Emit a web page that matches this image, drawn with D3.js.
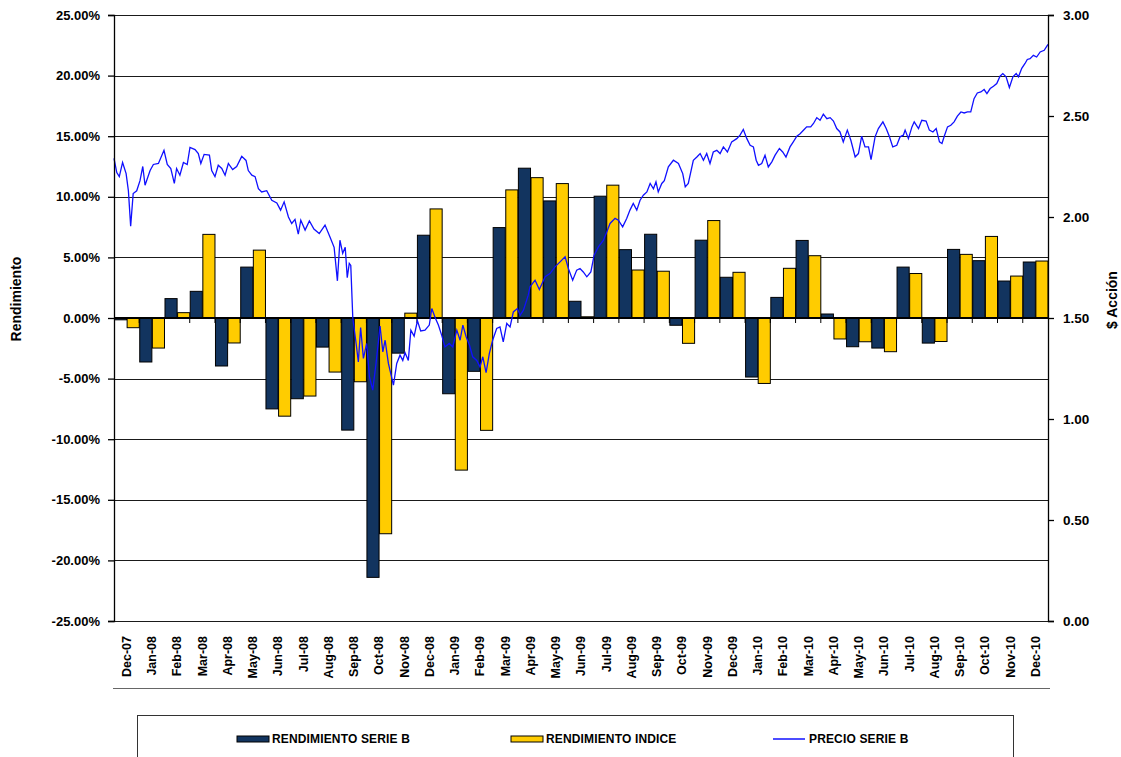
<!DOCTYPE html>
<html>
<head>
<meta charset="utf-8">
<script src="https://cdn.jsdelivr.net/npm/d3@7"></script>
<style>
  body { margin: 0; background: #fff; }
  svg { font-family: "Liberation Sans", Arial, sans-serif; font-weight: bold; }
</style>
</head>
<body>
<div id="chart"></div>
<script>
// categories (months)
const categories = ["Dec-07","Jan-08","Feb-08","Mar-08","Apr-08","May-08","Jun-08","Jul-08","Aug-08","Sep-08",
  "Oct-08","Nov-08","Dec-08","Jan-09","Feb-09","Mar-09","Apr-09","May-09","Jun-09","Jul-09","Aug-09","Sep-09",
  "Oct-09","Nov-09","Dec-09","Jan-10","Feb-10","Mar-10","Apr-10","May-10","Jun-10","Jul-10","Aug-10","Sep-10",
  "Oct-10","Nov-10","Dec-10"];

// monthly returns, %
const rendSerieB = [-0.15, -3.63, 1.6, 2.2, -3.96, 4.2, -7.5, -6.66, -2.4, -9.25, -21.4, -2.9, 6.83, -6.25, -4.4,
  7.46, 12.36, 9.66, 1.38, 10.05, 5.64, 6.91, -0.6, 6.42, 3.36, -4.87, 1.7, 6.4, 0.33, -2.37, -2.48, 4.2, -2.07,
  5.66, 4.73, 3.05, 4.62];
const rendIndice = [-0.8, -2.48, 0.44, 6.9, -2.06, 5.6, -8.1, -6.44, -4.46, -5.26, -17.8, 0.4, 9.0, -12.55, -9.27,
  10.57, 11.58, 11.09, 0.1, 10.96, 3.96, 3.86, -2.09, 8.04, 3.77, -5.4, 4.1, 5.14, -1.73, -1.96, -2.78, 3.67, -1.94,
  5.25, 6.73, 3.46, 4.7];

// price series B: position in months from start of Dec-07, and price
const priceMonth = [0.00,0.11,0.21,0.34,0.48,0.57,0.66,0.76,0.90,1.03,1.14,1.23,1.43,1.56,1.76,1.98,2.11,2.25,2.39,
  2.48,2.61,2.75,2.90,3.01,3.21,3.34,3.44,3.57,3.78,3.87,4.00,4.13,4.27,4.40,4.53,4.70,4.86,5.06,5.23,5.32,5.46,
  5.59,5.72,5.85,6.05,6.25,6.45,6.60,6.74,6.91,7.04,7.17,7.30,7.40,7.57,7.74,7.92,8.13,8.36,8.56,8.72,8.85,8.95,
  9.06,9.16,9.24,9.32,9.38,9.46,9.59,9.68,9.77,9.88,10.01,10.12,10.25,10.38,10.54,10.65,10.74,10.87,11.07,11.20,
  11.33,11.44,11.53,11.66,11.76,11.89,12.02,12.15,12.32,12.49,12.59,12.72,12.85,12.98,13.11,13.28,13.42,13.58,
  13.71,13.82,13.95,14.08,14.21,14.37,14.50,14.61,14.74,14.87,15.00,15.16,15.29,15.42,15.56,15.69,15.82,15.98,
  16.09,16.22,16.41,16.48,16.68,16.85,17.08,17.27,17.47,17.67,17.87,18.00,18.17,18.33,18.46,18.59,18.73,18.89,
  19.02,19.19,19.39,19.52,19.65,19.85,19.98,20.15,20.31,20.44,20.57,20.71,20.84,20.97,21.11,21.24,21.37,21.47,
  21.56,21.70,21.80,21.96,22.16,22.36,22.53,22.63,22.75,22.95,23.09,23.22,23.35,23.48,23.61,23.74,23.88,24.01,
  24.14,24.30,24.47,24.67,24.80,24.93,25.07,25.20,25.33,25.44,25.53,25.66,25.79,25.92,26.06,26.19,26.36,26.49,
  26.62,26.78,26.91,27.05,27.18,27.34,27.44,27.60,27.71,27.84,27.97,28.10,28.24,28.37,28.50,28.63,28.76,28.89,
  29.05,29.19,29.36,29.49,29.62,29.75,29.89,29.99,30.15,30.28,30.46,30.59,30.72,30.85,31.01,31.14,31.27,31.34,
  31.47,31.61,31.70,31.87,32.00,32.17,32.30,32.44,32.57,32.70,32.80,32.89,33.02,33.15,33.28,33.41,33.55,33.68,
  33.81,33.94,34.07,34.20,34.34,34.47,34.58,34.71,34.84,34.97,35.10,35.21,35.34,35.47,35.61,35.74,35.83,35.96,
  36.09,36.18,36.29,36.42,36.55,36.69,36.85,37.00];
const priceValue = [2.29,2.22,2.20,2.27,2.215,2.13,1.955,2.116,2.13,2.18,2.25,2.157,2.23,2.26,2.265,2.33,2.26,2.24,
  2.166,2.24,2.207,2.27,2.26,2.344,2.334,2.314,2.265,2.31,2.306,2.23,2.20,2.256,2.24,2.207,2.265,2.235,2.25,2.30,
  2.28,2.23,2.207,2.20,2.14,2.124,2.13,2.083,2.07,2.034,2.075,2.00,1.968,1.988,1.915,1.984,1.935,1.98,1.94,1.918,
  1.96,1.90,1.85,1.684,1.885,1.82,1.85,1.70,1.77,1.76,1.50,1.374,1.283,1.453,1.30,1.374,1.209,1.143,1.275,1.46,
  1.332,1.39,1.275,1.168,1.275,1.316,1.29,1.328,1.29,1.44,1.41,1.486,1.436,1.44,1.465,1.547,1.503,1.465,1.415,
  1.357,1.374,1.357,1.44,1.39,1.465,1.407,1.366,1.308,1.29,1.258,1.308,1.229,1.325,1.39,1.448,1.456,1.382,1.473,
  1.456,1.53,1.547,1.514,1.539,1.613,1.654,1.687,1.641,1.704,1.72,1.753,1.778,1.803,1.745,1.687,1.737,1.745,1.728,
  1.704,1.728,1.811,1.852,1.885,1.926,1.968,1.993,1.984,1.951,1.993,2.034,2.067,2.034,2.083,2.108,2.124,2.166,2.14,
  2.174,2.124,2.166,2.18,2.248,2.281,2.265,2.215,2.149,2.166,2.281,2.297,2.314,2.281,2.314,2.265,2.322,2.33,2.314,
  2.347,2.322,2.372,2.388,2.405,2.433,2.388,2.355,2.347,2.281,2.256,2.265,2.306,2.248,2.273,2.306,2.339,2.322,
  2.297,2.347,2.372,2.40,2.412,2.433,2.446,2.446,2.463,2.492,2.479,2.509,2.487,2.492,2.475,2.438,2.421,2.372,2.43,
  2.38,2.297,2.314,2.40,2.347,2.347,2.284,2.397,2.438,2.471,2.438,2.397,2.347,2.355,2.397,2.405,2.43,2.388,2.446,
  2.471,2.438,2.479,2.475,2.43,2.421,2.438,2.372,2.364,2.40,2.446,2.454,2.471,2.499,2.52,2.515,2.52,2.52,2.586,
  2.614,2.619,2.631,2.611,2.636,2.647,2.661,2.697,2.71,2.694,2.641,2.694,2.71,2.694,2.736,2.76,2.78,2.784,2.80,
  2.792,2.817,2.825,2.855];

const leftTicks = [25, 20, 15, 10, 5, 0, -5, -10, -15, -20, -25];
const rightTicks = [0, 0.5, 1, 1.5, 2, 2.5, 3];

const width = 1121, height = 757;
const plot = { left: 114, right: 1048, top: 15, bottom: 621 };
const colB = "#12345f", colI = "#ffcc00", colLine = "#1010ff";

// plain hyphen for negatives, like the original
const fmt = d3.formatLocale({ decimal: ".", thousands: ",", grouping: [3], currency: ["$", ""], minus: "-" });

const svg = d3.select("#chart").append("svg")
  .attr("width", width)
  .attr("height", height);

const x = d3.scaleBand().domain(categories).range([plot.left, plot.right]).padding(0);
const xs = d3.scaleBand().domain(["b", "i"]).range([0, x.bandwidth()]).padding(0);
const y = d3.scaleLinear().domain([-25, 25]).range([plot.bottom, plot.top]);
const y2 = d3.scaleLinear().domain([0, 3]).range([plot.bottom, plot.top]);
const xl = d3.scaleLinear().domain([0, categories.length]).range([plot.left, plot.right]);

// gridlines
svg.append("g")
  .selectAll("line")
  .data(leftTicks)
  .join("line")
  .attr("x1", plot.left).attr("x2", plot.right)
  .attr("y1", d => Math.round(y(d)) + 0.5).attr("y2", d => Math.round(y(d)) + 0.5)
  .attr("stroke", "#1a1a1a")
  .attr("stroke-width", 1.2);

// bars
const rows = categories.map((c, i) => ({ c, b: rendSerieB[i], i: rendIndice[i] }));
const groups = svg.append("g").selectAll("g")
  .data(rows)
  .join("g")
  .attr("transform", d => `translate(${x(d.c)},0)`);

groups.selectAll("rect")
  .data(d => [{ k: "b", v: d.b }, { k: "i", v: d.i }])
  .join("rect")
  .attr("x", d => xs(d.k) + 0.5)
  .attr("width", xs.bandwidth() - 0.5)
  .attr("y", d => y(Math.max(0, d.v)))
  .attr("height", d => Math.abs(y(d.v) - y(0)))
  .attr("fill", d => d.k === "b" ? colB : colI)
  .attr("stroke", "#000")
  .attr("stroke-width", 1);

// zero line + category ticks
svg.append("line")
  .attr("x1", plot.left).attr("x2", plot.right)
  .attr("y1", y(0)).attr("y2", y(0))
  .attr("stroke", "#000").attr("stroke-width", 2);

svg.append("g")
  .selectAll("line")
  .data(categories.slice(1))
  .join("line")
  .attr("x1", d => x(d)).attr("x2", d => x(d))
  .attr("y1", y(0)).attr("y2", y(0) + 5)
  .attr("stroke", "#000");

// price line
const line = d3.line()
  .x((d, i) => xl(priceMonth[i]))
  .y(d => y2(d));

svg.append("path")
  .datum(priceValue)
  .attr("d", line)
  .attr("fill", "none")
  .attr("stroke", colLine)
  .attr("stroke-width", 1.3);

// left axis
const yAxis = svg.append("g")
  .attr("transform", `translate(${plot.left},0)`)
  .call(d3.axisLeft(y).tickValues(leftTicks).tickSize(6).tickPadding(8)
    .tickFormat(d => fmt.format(".2f")(d) + "%"));
yAxis.selectAll("text").style("font-size", "13px").style("fill", "#000");
yAxis.selectAll("line, path").attr("stroke", "#000").attr("stroke-width", 1.3);

// right axis
const yAxis2 = svg.append("g")
  .attr("transform", `translate(${plot.right},0)`)
  .call(d3.axisRight(y2).tickValues(rightTicks).tickSize(6).tickPadding(9)
    .tickFormat(fmt.format(".2f")));
yAxis2.selectAll("text").style("font-size", "13.5px").style("fill", "#000");
yAxis2.selectAll("line, path").attr("stroke", "#000").attr("stroke-width", 1.3);

// category labels
svg.append("g")
  .selectAll("text")
  .data(categories)
  .join("text")
  .attr("transform", d => `translate(${x(d) + x.bandwidth() / 2},636) rotate(-90)`)
  .attr("text-anchor", "end")
  .attr("dy", "0.35em")
  .style("font-size", "12.5px")
  .text(d => d);

svg.append("line")
  .attr("x1", 113).attr("x2", 1050)
  .attr("y1", 688.5).attr("y2", 688.5)
  .attr("stroke", "#666");

// axis titles
svg.append("text")
  .attr("transform", "translate(21,299) rotate(-90)")
  .attr("text-anchor", "middle")
  .style("font-size", "14px")
  .text("Rendimiento");

svg.append("text")
  .attr("transform", "translate(1117,300) rotate(-90)")
  .attr("text-anchor", "middle")
  .style("font-size", "14px")
  .text("$ Acción");

// legend
svg.append("rect")
  .attr("x", 137.5).attr("y", 715.5)
  .attr("width", 876).attr("height", 60)
  .attr("fill", "#fff")
  .attr("stroke", "#333");

const legendItems = [
  { label: "RENDIMIENTO SERIE B", type: "bar", color: colB, x: 237 },
  { label: "RENDIMIENTO INDICE", type: "bar", color: colI, x: 511 },
  { label: "PRECIO SERIE B", type: "line", color: colLine, x: 773 }
];

const lg = svg.append("g").selectAll("g")
  .data(legendItems)
  .join("g")
  .attr("transform", d => `translate(${d.x},739)`);

lg.filter(d => d.type === "bar").append("rect")
  .attr("x", 0).attr("y", -3).attr("width", 32).attr("height", 6)
  .attr("fill", d => d.color).attr("stroke", "#000");

lg.filter(d => d.type === "line").append("line")
  .attr("x1", 0).attr("x2", 32).attr("y1", 0).attr("y2", 0)
  .attr("stroke", d => d.color).attr("stroke-width", 1.5);

lg.append("text")
  .attr("x", d => d.type === "line" ? 36 : 35)
  .attr("dy", "0.35em")
  .style("font-size", "12px")
  .style("letter-spacing", "0.15px")
  .text(d => d.label);
</script>
</body>
</html>
